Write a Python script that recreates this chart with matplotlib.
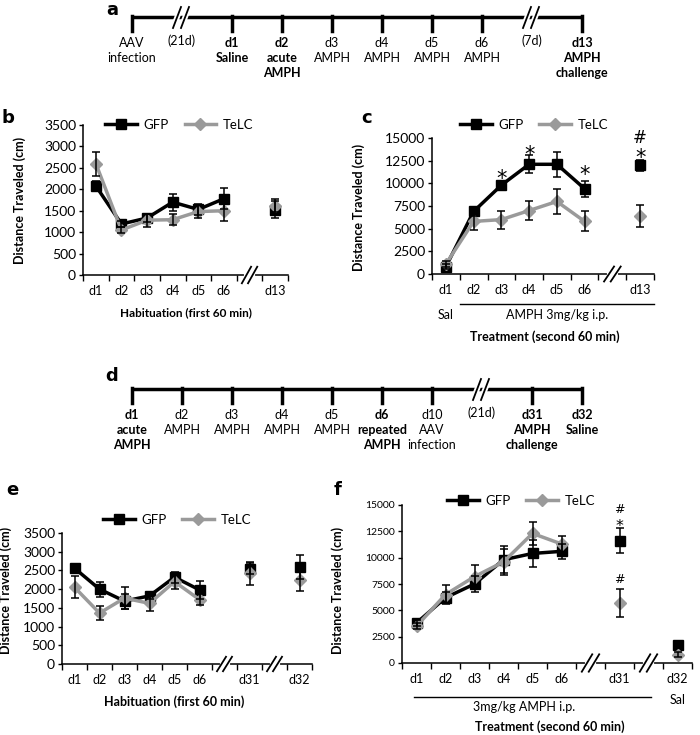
import numpy as np
import matplotlib.pyplot as plt
import matplotlib.transforms as mtransforms
from matplotlib.lines import Line2D

plt.rcParams['font.family'] = ['Lato', 'DejaVu Sans']

# ---- timeline labels (panels a and d) ----
tl_a = ['AAV\ninfection', '(21d)', 'd1\nSaline', 'd2\nacute\nAMPH', 'd3\nAMPH', 'd4\nAMPH',
        'd5\nAMPH', 'd6\nAMPH', '(7d)', 'd13\nAMPH\nchallenge']
tl_a_bold = [0, 0, 1, 1, 0, 0, 0, 0, 0, 1]
tl_d = ['d1\nacute\nAMPH', 'd2\nAMPH', 'd3\nAMPH', 'd4\nAMPH', 'd5\nAMPH', 'd6\nrepeated\nAMPH',
        'd10\nAAV\ninfection', '(21d)', 'd31\nAMPH\nchallenge', 'd32\nSaline']
tl_d_bold = [1, 0, 0, 0, 0, 1, 0, 0, 1, 1]

# ---- panel b: habituation ----
cats_b = ['d1', 'd2', 'd3', 'd4', 'd5', 'd6', '//', 'd13']
gfp_b = [2080, 1190, 1330, 1700, 1530, 1780, 1520]
gfp_b_err = [120, 60, 100, 200, 130, 250, 200]
telc_b = [2600, 1050, 1280, 1290, 1480, 1500, 1620]
telc_b_err = [280, 80, 150, 130, 150, 230, 150]

# ---- panel c: treatment ----
cats_c = ['d1', 'd2', 'd3', 'd4', 'd5', 'd6', '//', 'd13']
gfp_c = [800, 6900, 9800, 12100, 12100, 9400, 12000]
gfp_c_err = [300, 500, 300, 1000, 1400, 900, 600]
telc_c = [1100, 5800, 6000, 7000, 8000, 5800, 6400]
telc_c_err = [300, 900, 1000, 1000, 1400, 1100, 1250]
sig_c = [('*', 'd3', 11000), ('*', 'd4', 13700), ('*', 'd6', 11500), ('*', 'd13', 13400), ('#', 'd13', 15000)]

# ---- panel e: habituation ----
cats_e = ['d1', 'd2', 'd3', 'd4', 'd5', 'd6', '//', 'd31', '//', 'd32']
gfp_e = [2560, 2000, 1680, 1820, 2320, 1980, 2550, 2580]
gfp_e_err = [100, 200, 200, 80, 150, 250, 150, 320]
telc_e = [2050, 1360, 1760, 1620, 2200, 1720, 2420, 2250]
telc_e_err = [290, 180, 300, 200, 200, 150, 300, 300]

# ---- panel f: treatment ----
cats_f = ['d1', 'd2', 'd3', 'd4', 'd5', 'd6', '//', 'd31', '//', 'd32']
gfp_f = [3800, 6200, 7500, 9800, 10400, 10600, 11600, 1750]
gfp_f_err = [300, 500, 800, 1300, 1300, 700, 1200, 250]
telc_f = [3500, 6500, 8200, 9600, 12300, 11300, 5700, 800]
telc_f_err = [300, 900, 1100, 1200, 1100, 800, 1300, 200]
sig_f = [('*', 'd31', 13300), ('#', 'd31', 14600), ('#', 'd31', 7900)]

W, H = 700, 735
fig = plt.figure(figsize=(7, 7.35), dpi=100)
GRAY = '#9a9a9a'


def box(l, t, r, b):
    return [l / W, 1 - b / H, (r - l) / W, (b - t) / H]


def timeline(top, labels, bold):
    ax = fig.add_axes(box(107, top, 607, top + 90))
    ax.set_xlim(-0.5, 9.5)
    ax.set_ylim(90, 0)
    ax.axis('off')
    ax.plot([0, 9], [17, 17], color='black', lw=2.5, solid_capstyle='butt')
    for i, lab in enumerate(labels):
        if lab.startswith('('):
            for dx in (-0.1, 0.06):
                ax.plot([i + dx - 0.08, i + dx + 0.08], [28, 7], color='white', lw=4)
                ax.plot([i + dx - 0.08, i + dx + 0.08], [28, 7], color='black', lw=1.3)
            ax.text(i, 34, lab, ha='center', va='top', fontsize=9)
        else:
            ax.plot([i, i], [16, 31], color='black', lw=2.5)
            ax.text(i, 37, lab, ha='center', va='top', fontsize=9, linespacing=1.3,
                    fontweight='bold' if bold[i] else 'normal')


def axis_break(ax, x):
    tr = mtransforms.blended_transform_factory(ax.transData, ax.transAxes)
    ax.plot([x - 0.12, x + 0.12], [0, 0], color='white', lw=3, transform=tr, clip_on=False, zorder=5)
    for dx in (-0.12, 0.12):
        ax.plot([x + dx - 0.18, x + dx + 0.18], [-0.055, 0.055], color='black', lw=1.3,
                transform=tr, clip_on=False, zorder=6)


def chart(rect, cats, gfp, gfp_err, telc, telc_err, ymax, ystep, fs, leg_xy):
    ax = fig.add_axes(rect)
    x = [i for i, c in enumerate(cats) if c != '//']
    n = 6
    for vals, err, col, mk, ms in [(gfp, gfp_err, 'black', 's', 7.5), (telc, telc_err, GRAY, 'D', 6)]:
        ax.errorbar(x, vals, yerr=err, fmt='none', ecolor='black', elinewidth=1.1,
                    capsize=3, capthick=1.1, zorder=4)
        ax.plot(x[:n], vals[:n], color=col, lw=2.5, marker=mk, ms=ms, zorder=3)
        ax.plot(x[n:], vals[n:], color=col, ls='none', marker=mk, ms=ms, zorder=3)
    ax.set_xlim(-0.5, len(cats) - 0.5)
    ax.set_ylim(0, ymax)
    ax.set_yticks(range(0, ymax + 1, ystep))
    ax.set_xticks(range(len(cats)))
    ax.set_xticklabels(['' if c == '//' else c for c in cats])
    ax.set_xticks(np.arange(-0.5, len(cats)), minor=True)
    ax.tick_params(axis='x', which='major', length=0, pad=7, labelsize=9)
    ax.tick_params(axis='x', which='minor', length=4, width=1)
    ax.tick_params(axis='y', length=3, width=1, pad=2, labelsize=fs)
    for s in ['top', 'right']:
        ax.spines[s].set_visible(False)
    for s in ['left', 'bottom']:
        ax.spines[s].set_linewidth(1.1)
    for i, c in enumerate(cats):
        if c == '//':
            axis_break(ax, i)
    handles = [Line2D([], [], color='black', lw=2.5, marker='s', ms=7.5),
               Line2D([], [], color=GRAY, lw=2.5, marker='D', ms=6)]
    ax.legend(handles, ['GFP', 'TeLC'], ncol=2, frameon=False, loc='center',
              bbox_to_anchor=leg_xy, fontsize=9.5, handlelength=2.4, columnspacing=1.2,
              handletextpad=0.5)
    ax.set_ylabel('Distance Traveled (cm)', fontsize=9, fontweight='bold')
    return ax, x


def marks(ax, cats, x, sig, fs):
    days = [c for c in cats if c != '//']
    for sym, day, y in sig:
        # asterisk glyph sits high in its box, so pull it down a little
        ax.annotate(sym, (x[days.index(day)], y), xytext=(0, -0.3 * fs if sym == '*' else 0),
                    textcoords='offset points', ha='center', va='center',
                    fontsize=fs * 1.25 if sym == '*' else fs, family='DejaVu Sans', zorder=6)


timeline(0, tl_a, tl_a_bold)
timeline(372, tl_d, tl_d_bold)

# b
ax, x = chart(box(83, 125, 288, 275), cats_b, gfp_b, gfp_b_err, telc_b, telc_b_err,
              3500, 500, 10, (0.47, 1.0))
ax.yaxis.set_label_coords(-0.28, 0.5)
ax.text(0.5, -0.25, 'Habituation (first 60 min)', transform=ax.transAxes, ha='center',
        va='center', fontsize=8.5, fontweight='bold')

# c
ax, x = chart(box(432, 138, 654, 274), cats_c, gfp_c, gfp_c_err, telc_c, telc_c_err,
              15000, 2500, 10, (0.46, 1.095))
ax.yaxis.set_label_coords(-0.3, 0.49)
marks(ax, cats_c, x, sig_c, 12)
tr = mtransforms.blended_transform_factory(ax.transData, ax.transAxes)
ax.plot([0.5, 7.5], [-0.22, -0.22], color='black', lw=1, transform=tr, clip_on=False)
ax.text(0, -0.30, 'Sal', transform=tr, ha='center', va='center', fontsize=9)
ax.text(4, -0.30, 'AMPH 3mg/kg i.p.', transform=tr, ha='center', va='center', fontsize=9)
ax.text(0.51, -0.46, 'Treatment (second 60 min)', transform=ax.transAxes, ha='center',
        va='center', fontsize=9, fontweight='bold')

# e
ax, x = chart(box(62, 533, 312, 664), cats_e, gfp_e, gfp_e_err, telc_e, telc_e_err,
              3500, 500, 10, (0.46, 1.1))
ax.yaxis.set_label_coords(-0.2, 0.56)
ax.text(0.45, -0.29, 'Habituation (first 60 min)', transform=ax.transAxes, ha='center',
        va='center', fontsize=9, fontweight='bold')

# f
ax, x = chart(box(402, 505, 692, 663), cats_f, gfp_f, gfp_f_err, telc_f, telc_f_err,
              15000, 2500, 7.5, (0.41, 1.025))
ax.yaxis.set_label_coords(-0.2, 0.46)
marks(ax, cats_f, x, sig_f, 9)
tr = mtransforms.blended_transform_factory(ax.transData, ax.transAxes)
ax.plot([-0.1, 8.1], [-0.215, -0.215], color='black', lw=1, transform=tr, clip_on=False)
ax.text(3.7, -0.28, '3mg/kg AMPH i.p.', transform=tr, ha='center', va='center', fontsize=9)
ax.text(9, -0.235, 'Sal', transform=tr, ha='center', va='center', fontsize=9)
ax.text(0.51, -0.405, 'Treatment (second 60 min)', transform=ax.transAxes, ha='center',
        va='center', fontsize=9, fontweight='bold')

# panel letters
for lab, px, py in [('a', 112, 10), ('b', 8, 118), ('c', 367, 118), ('d', 112, 376),
                    ('e', 12, 490), ('f', 338, 490)]:
    fig.text(px / W, 1 - py / H, lab, ha='center', va='center', fontsize=13,
             fontweight='bold', family='DejaVu Sans')

fig.savefig('out.png', dpi=100)
